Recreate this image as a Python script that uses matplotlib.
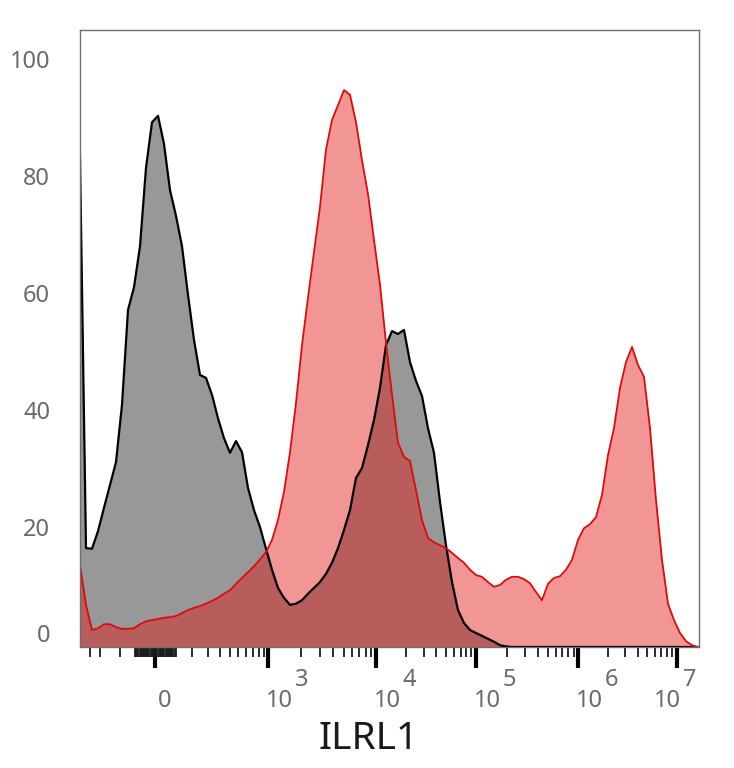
import numpy as np
import matplotlib
matplotlib.use("Agg")
import matplotlib.pyplot as plt

# histogram heights (% of max) on 104 evenly spaced display channels
control = [83.6, 16.9, 16.8, 19.8, 23.8, 27.7, 31.6, 41.4, 57.6, 61.5,
           68.5, 81.9, 89.7, 90.8, 86.0, 78.1, 73.7, 68.5, 60.2, 52.5,
           46.5, 46.0, 43.1, 39.1, 35.7, 33.2, 35.2, 33.3, 27.2, 23.4,
           20.5, 16.8, 13.2, 10.1, 8.4, 7.2, 7.4, 8.0, 9.1, 10.1,
           11.1, 12.5, 14.4, 16.9, 20.0, 23.4, 28.9, 30.6, 34.5, 38.8,
           44.3, 51.6, 54.0, 53.5, 54.2, 48.7, 45.5, 42.9, 37.4, 33.2,
           24.8, 17.4, 11.1, 6.3, 4.1, 2.9, 2.4, 1.9, 1.4, 0.9,
           0.3, 0.1] + [0.0] * 32
ilrl1 = [14.0, 7.2, 2.9, 3.2, 3.9, 3.9, 3.4, 3.1, 3.1, 3.2,
         3.9, 4.4, 4.6, 4.8, 5.0, 5.1, 5.3, 5.8, 6.3, 6.7,
         7.0, 7.4, 7.9, 8.4, 9.1, 9.7, 10.8, 11.8, 12.8, 13.8,
         15.0, 16.2, 18.3, 21.7, 26.5, 33.3, 41.7, 51.6, 59.7, 67.5,
         75.2, 85.0, 90.1, 92.6, 95.2, 94.4, 89.7, 83.2, 77.4, 69.6,
         61.9, 52.0, 43.1, 34.9, 32.5, 31.8, 26.8, 21.7, 18.6, 17.9,
         17.4, 16.9, 16.1, 15.2, 14.4, 13.2, 12.3, 12.0, 11.1, 10.3,
         10.6, 11.5, 12.0, 12.0, 11.6, 10.9, 9.4, 8.0, 10.8, 11.8,
         12.1, 13.2, 14.9, 18.3, 20.3, 21.0, 22.2, 26.0, 32.8, 37.4,
         44.3, 48.7, 51.3, 48.2, 46.2, 37.4, 25.1, 14.9, 7.4, 4.6,
         2.4, 1.0, 0.3, 0.0]

major_ticks = [0, 1e3, 1e4, 1e5, 1e6, 1e7]
major_exps = [None, 3, 4, 5, 6, 7]
y_ticks = [0, 20, 40, 60, 80, 100]
x_label = "ILRL1"

# biexponential-like display scale (value -> channel), piecewise in asinh space
W = 150.0
knot_v = np.array([-1e5, -420, -300, -200, -100, 0, 100, 200, 300, 400, 500,
                   1e3, 1e4, 1e5, 1e6, 1e7, 1e9])
knot_c = np.array([-96, 80, 90, 100, 120, 155, 191.7, 208.3, 220, 230, 238.3,
                   268.3, 376, 476, 578.3, 676.7, 876.7])
knot_s = np.arcsinh(knot_v / W)


def fwd(v):
    return np.interp(np.arcsinh(np.asarray(v, float) / W), knot_s, knot_c)


def inv(c):
    return W * np.sinh(np.interp(np.asarray(c, float), knot_c, knot_s))


x = inv(np.linspace(80, 698, len(ilrl1)))
xmin, xmax = inv(80), inv(699.3)

fig = plt.figure(figsize=(7.34, 7.68), dpi=100)
ax = fig.add_axes([80 / 734, 121 / 768, 619.3 / 734, 617 / 768])
ax.set_xscale('function', functions=(fwd, inv))
ax.set_xlim(xmin, xmax)
ax.set_ylim(0, 105.47)

ax.fill_between(x, control, 0, color='#989898', lw=0)
ax.fill_between(x, ilrl1, 0, color=(0.88, 0.08, 0.08), alpha=0.45, lw=0)
ax.plot(x, control, color='black', lw=1.6)
ax.plot(x, ilrl1, color='#dd0a0a', lw=1.3)

for s in ax.spines.values():
    s.set_color('#6e6e6e')
    s.set_linewidth(1)

# x ticks: decades, per-decade minors and the dense linear band around zero
minor = [-300, -200, -100]
minor += [m * 10 ** d for d in range(2, 7) for m in range(1 if d == 2 else 2, 10)]
band = list(np.arange(-54, 55, 3))
ax.set_xticks(major_ticks)
ax.set_xticklabels([])
ax.set_xticks(minor + band, minor=True)
ax.tick_params(axis='x', which='major', length=15, width=3, color='black', direction='out')
ax.tick_params(axis='x', which='minor', length=7, width=1.3, color='#1a1a1a', direction='out')
ax.set_yticks([])

lab_kw = dict(fontsize=17, color='#6a6a6a', family='Noto Sans',
              textcoords='offset pixels', ha='center', va='center')
for v, e in zip(major_ticks, major_exps):
    if e is None:
        ax.annotate("0", xy=(v, 0), xycoords=('data', 'axes fraction'),
                    xytext=(10, -54), **lab_kw)
        continue
    dx = -9 if e == 7 else 11
    ax.annotate("10", xy=(v, 0), xycoords=('data', 'axes fraction'),
                xytext=(dx, -54), **lab_kw)
    ax.annotate(str(e), xy=(v, 0), xycoords=('data', 'axes fraction'),
                xytext=(dx + 22, -33), **lab_kw)

for v in y_ticks:
    ax.annotate(str(v), xy=(0, v), xycoords=('axes fraction', 'data'),
                xytext=(-30, 11 if v == 0 else 0), textcoords='offset pixels',
                ha='right', va='center', fontsize=17, color='#6a6a6a',
                family='Noto Sans')

fig.text(369 / 734, 1 - 739 / 768, x_label, ha='center', va='center',
         fontsize=28, color='#1a1a1a', family='Noto Sans')

fig.savefig("out.png", dpi=100)
